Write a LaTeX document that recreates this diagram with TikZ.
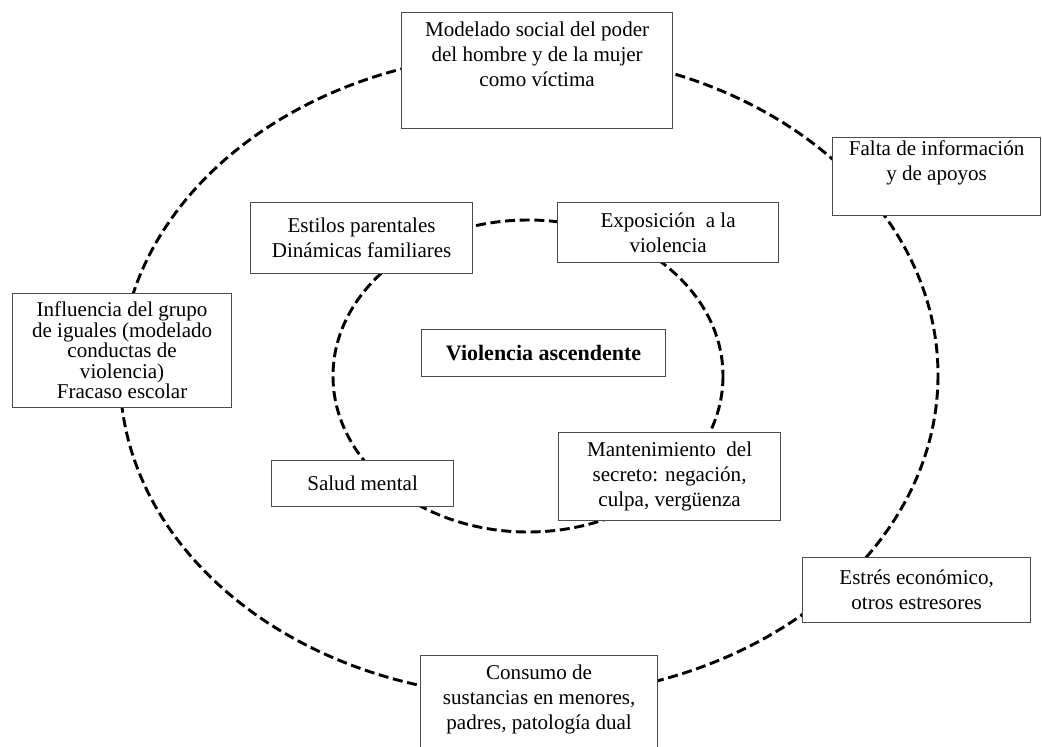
\documentclass[tikz,border=0pt]{standalone}
\usepackage{fontspec}
\setmainfont{Liberation Serif}
\usepackage{tikz}

\tikzset{
  cbox/.style 2 args={draw=black!70, fill=white, line width=0.9pt, anchor=north west,
    align=center, inner sep=2pt, minimum width=#1*0.75pt, minimum height=#2*0.75pt,
    font=\fontsize{15.8}{18.8}\selectfont},
  ring/.style={draw=black, line width=2.2pt, dash pattern=on 7.5pt off 3.5pt}
}

\begin{document}
\begin{tikzpicture}[x=0.75pt,y=0.75pt,yscale=-1]
  %set diagram to 1042 x 746
  \fill[white] (0,0) rectangle (1042,746);
  \useasboundingbox (0,0) rectangle (1042,746);
  \clip (0,0) rectangle (1042,746);

  %Outer ring
  \draw[ring] (529,375) ellipse [x radius=409, y radius=322];
  %Inner ring
  \draw[ring] (528,376) ellipse [x radius=195, y radius=156];

  % Outer boxes
  \node (modelado) [cbox={271}{116}] at (401,12) {Modelado social del poder\\del hombre y de la mujer\\como víctima\\\strut};
  \node (falta) [cbox={208}{73}] at (832,137) {Falta de información\\y de apoyos\\\strut};
  \node (influencia) [cbox={219}{114}, font=\fontsize{15.8}{15.4}\selectfont] at (12,293) {Influencia del grupo\\de iguales (modelado\\conductas de\\violencia)\\Fracaso escolar};
  \node (estres) [cbox={228}{65}] at (802,557) {Estrés económico,\\otros estresores};
  \node (consumo) [cbox={237}{115}] at (420,655) {Consumo de\\sustancias en menores,\\padres, patología dual\\\strut};

  % Inner boxes
  \node (estilos) [cbox={222}{71}] at (250,202) {Estilos parentales\\Dinámicas familiares};
  \node (exposicion) [cbox={221}{60}] at (557,202) {Exposición \ a la\\violencia};
  \node (salud) [cbox={182}{46}] at (271,460) {Salud mental};
  \node (secreto) [cbox={222}{88}] at (558,432) {Mantenimiento \ del\\secreto: negación,\\culpa, vergüenza};

  % Centre
  \node (violencia) [cbox={244}{47}, font=\fontsize{16.5}{19}\selectfont\bfseries] at (421,329) {Violencia ascendente};
\end{tikzpicture}
\end{document}
